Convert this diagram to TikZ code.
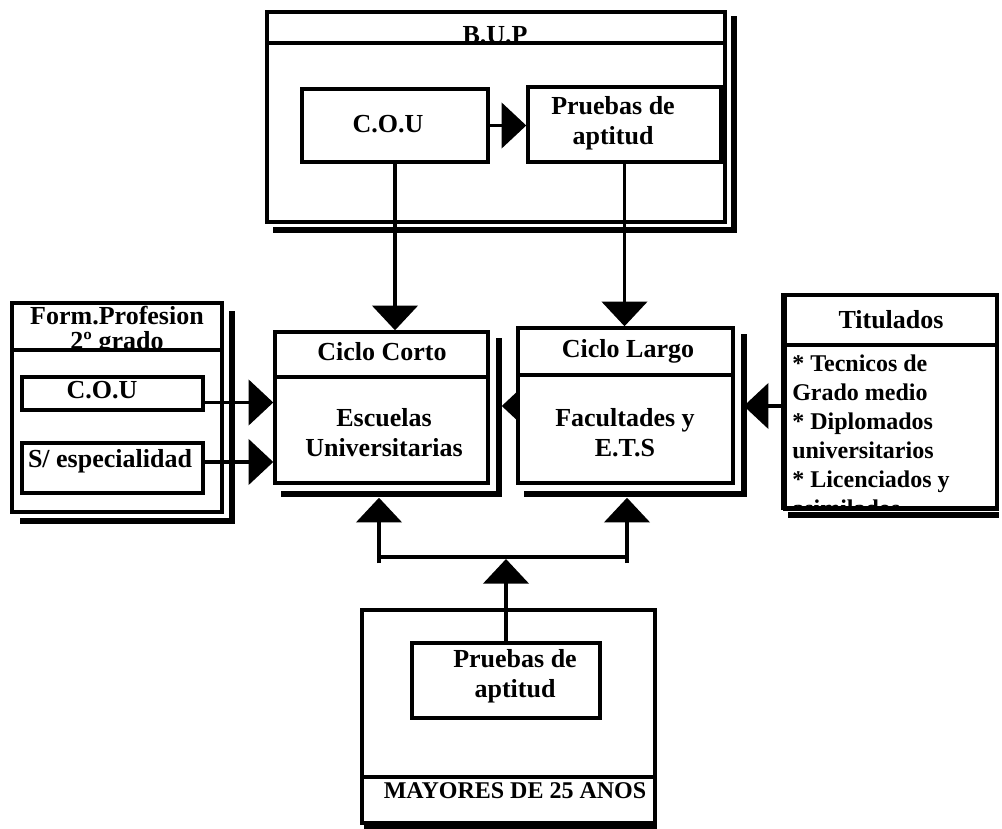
\documentclass[tikz,border=0pt]{standalone}
\usepackage{fontspec}
\setmainfont{Liberation Serif}
\usetikzlibrary{arrows.meta,calc,fit}
\begin{document}
\begin{tikzpicture}[x=0.75pt,y=-0.75pt,
  box/.style={draw, line width=2.6pt, fill=white, inner sep=0pt},
  shad/.style={line width=4.2pt},
  sepline/.style={line width=2.6pt},
  conn/.style={line width=2.6pt, -{Triangle[length=18.5pt,width=34pt]}},
  plainline/.style={line width=2.6pt},
  lbl/.style={font=\bfseries\fontsize{19.5}{22.5}\selectfont, inner sep=0pt, align=center},
  lst/.style={font=\bfseries\fontsize{18}{21.75}\selectfont, inner sep=0pt, align=left},
]
\useasboundingbox (0,0) rectangle (1002,828);
\fill[white] (0,0) rectangle (1002,828);

% ---------- B.U.P ----------
\node[box, fit={(267,12) (725,222)}] (bup) {};
\draw[shad] ($(bup.south west)+(8,6)$) -- ($(bup.south east)+(7,6)$) -- ($(bup.north east)+(7,6)$);
\begin{scope}
  \clip (bup.north west) rectangle (bup.east |- 0,43);
  \node[lbl, anchor=base] (bupt) at (495,43) {B.U.P};
\end{scope}
\draw[sepline] (bup.west |- 0,43) -- (bup.east |- 0,43);
\node[box, fit={(302,89) (488,162)}] (cou1) {};
\node[lbl, anchor=base] (cou1t) at (388,132) {C.O.U};
\node[box, fit={(528,87) (721,162)}] (pru1) {};
\node[lbl] (pru1t) at (613,123) {Pruebas de\\aptitud};

% ---------- Ciclo Corto ----------
\node[box, fit={(275,332) (488,483)}] (corto) {};
\draw[shad] ($(corto.south west)+(8,9)$) -- ($(corto.south east)+(9,9)$) -- ($(corto.north east)+(9,8)$);
\draw[sepline] (corto.west |- 0,377) -- (corto.east |- 0,377);
\node[lbl, anchor=base] (cortot) at (382,360) {Ciclo Corto};
\node[lbl] (esct) at (384,433) {Escuelas\\Universitarias};

% arrow Ciclo Largo -> Ciclo Corto (drawn before the Ciclo Largo box)
\coordinate (lw) at (518,406);
\begin{scope}
  \clip (corto.north east) rectangle (lw |- corto.south);
  \draw[conn] (lw) -- ($(corto.east |- lw)+(12,0)$);
\end{scope}

% ---------- Ciclo Largo ----------
\node[box, fit={(518,328) (733,483)}] (largo) {};
\draw[shad] ($(largo.south west)+(8,9)$) -- ($(largo.south east)+(9,9)$) -- ($(largo.north east)+(9,8)$);
\draw[sepline] (largo.west |- 0,375) -- (largo.east |- 0,375);
\node[lbl, anchor=base] (largot) at (628,357) {Ciclo Largo};
\node[lbl] (fact) at (625,433) {Facultades y\\E.T.S};

% ---------- Form. Profesion ----------
\node[box, fit={(12,303) (222,512)}] (form) {};
\draw[shad] ($(form.south west)+(10,7)$) -- ($(form.south east)+(8,7)$) -- ($(form.north east)+(8,10)$);
\begin{scope}
  \clip (form.north west) rectangle (form.east |- 0,350);
  \node[lbl, font=\bfseries\fontsize{19.5}{19}\selectfont] (formt) at (117,331) {Form.Profesion\\2º grado};
\end{scope}
\draw[sepline] (form.west |- 0,350) -- (form.east |- 0,350);
\node[box, fit={(22,377) (203,410)}] (cou2) {};
\node[lbl, anchor=base] (cou2t) at (102,398) {C.O.U};
\node[box, fit={(22,443) (203,493)}] (esp) {};
\node[lbl, anchor=base] (espt) at (110,467) {S/ especialidad};

% ---------- Titulados ----------
\node[box, fit={(785,295) (997,508)}] (tit) {};
\draw[shad] ($(tit.south west)+(5,5)$) -- ($(tit.south east)+(0,5)$);
\draw[line width=3.4pt] (tit.north west) -- (tit.south west);
\draw[sepline] (tit.west |- 0,345) -- (tit.east |- 0,345);
\node[lbl, anchor=base] (titt) at (891,328) {Titulados};
\begin{scope}
  \clip ($(tit.west |- 0,347)$) rectangle (tit.south east);
  \node[lst, anchor=north west] (titl) at (792,355) {* Tecnicos de\\Grado medio\\* Diplomados\\universitarios\\* Licenciados y\\asimilados};
\end{scope}
\draw[line width=2.6pt] (tit.south west) -- (tit.south east);

% ---------- Mayores de 25 ----------
\node[box, fit={(362,610) (655,823)}] (may) {};
\draw[line width=3pt] ($(may.south west)+(4,2)$) -- ($(may.south east)+(0,2)$);
\draw[sepline] (may.west |- 0,777) -- (may.east |- 0,777);
\node[lbl, font=\bfseries\fontsize{18}{20}\selectfont, anchor=base] (mayt) at (515,798) {MAYORES DE 25 ANOS};
\node[box, fit={(412,643) (600,718)}] (pr2) {};
\node[lbl] (pr2t) at (515,676) {Pruebas de\\aptitud};

% ---------- connectors ----------
\draw[conn] (cou1.east) -- (pru1.west |- cou1.east);
\draw[conn] (cou1.south) -- (cou1.south |- corto.north);
\draw[conn] (pru1.south) -- (pru1.south |- largo.north);
\draw[conn] ($(cou2.east)+(0,9)$) -- ($(corto.west |- cou2.east)+(0,9)$);
\draw[conn] ($(esp.east)+(0,-6)$) -- ($(corto.west |- esp.east)+(0,-6)$);
\draw[conn] (tit.west |- 0,406) -- ($(largo.east |- 0,406)+(9,0)$);

\coordinate (bl) at (379,563);
\coordinate (br) at (627,563);
\draw[plainline] (bl) -- ($(bl)+(0,-6)$) -- ($(br)+(0,-6)$) -- (br);
\draw[conn] (bl) -- ($(bl |- corto.south)+(0,13)$);
\draw[conn] (br) -- ($(br |- largo.south)+(0,13)$);
\draw[conn] (pr2.north) -- ($(pr2.north |- bl)+(0,-4)$);
\end{tikzpicture}
\end{document}
